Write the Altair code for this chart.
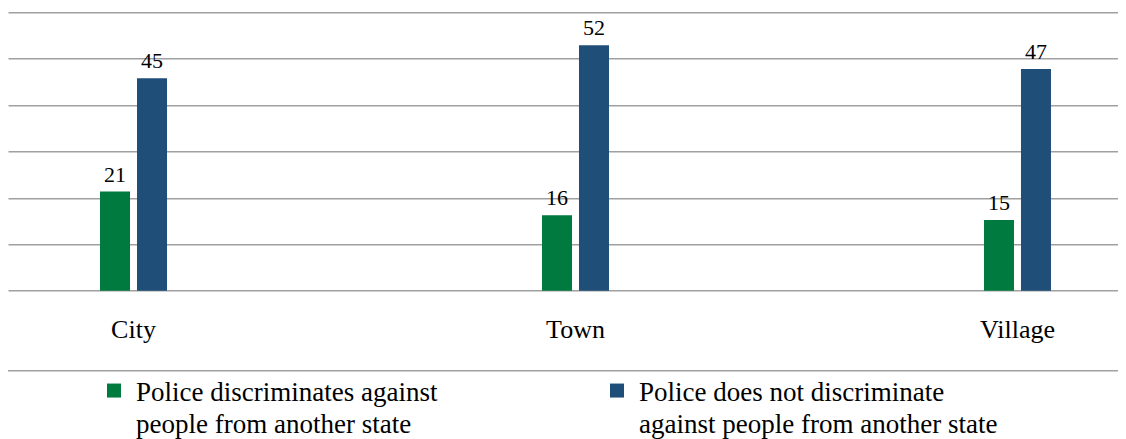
import altair as alt
import pandas as pd

# ---- data ----
categories = ["City", "Town", "Village"]
series = [
    "Police discriminates against people from another state",
    "Police does not discriminate against people from another state",
]
discriminates = [21, 16, 15]
not_discriminates = [45, 52, 47]
legend_line1 = ["Police discriminates against", "Police does not discriminate"]
legend_line2 = ["people from another state", "against people from another state"]
colors = ["#007A3E", "#1F4E79"]
y_grid = [0, 9.83, 19.67, 29.5, 39.33, 49.17, 59]

rows = []
for i, c in enumerate(categories):
    rows.append({"area": c, "series": series[0], "value": discriminates[i]})
    rows.append({"area": c, "series": series[1], "value": not_discriminates[i]})
df = pd.DataFrame(rows)

W = 1110
H = 278.4
FONT = "Liberation Serif"
GRID = "#A0A0A0"

label_expr = (
    f"datum.label == '{series[0]}' ? ['{legend_line1[0]}', '{legend_line2[0]}'] "
    f": ['{legend_line1[1]}', '{legend_line2[1]}']"
)

x_enc = alt.X(
    "area:N",
    sort=categories,
    scale=alt.Scale(paddingInner=0.8484, paddingOuter=0.1799, align=0.5786),
    axis=alt.Axis(
        title=None, domain=False, ticks=False, labelAngle=0,
        labelFont=FONT, labelFontSize=26, labelColor="#000000",
        labelBaseline="alphabetic", labelPadding=46.6,
    ),
)
xoff_enc = alt.XOffset("series:N", sort=series,
                       scale=alt.Scale(paddingInner=0.189, paddingOuter=0))
y_enc = alt.Y(
    "value:Q",
    scale=alt.Scale(domain=[0, 59], nice=False, zero=True),
    axis=alt.Axis(title=None, values=y_grid, labels=False, ticks=False,
                  domain=False, grid=True, gridColor=GRID, gridWidth=1.5),
)

base = alt.Chart(df)

bars = base.mark_bar().encode(
    x=x_enc,
    xOffset=xoff_enc,
    y=y_enc,
    color=alt.Color(
        "series:N",
        sort=series,
        scale=alt.Scale(domain=series, range=colors),
        legend=alt.Legend(
            title=None, orient="none", legendX=92.5, legendY=354,
            direction="horizontal", columns=2,
            symbolType="M-1,0.5H1V2.5H-1Z", symbolSize=196, symbolStrokeWidth=0,
            labelFont=FONT, labelFontSize=27, labelColor="#000000",
            labelLimit=700, labelOffset=8.5, columnPadding=166,
            labelBaseline="top",
            labelExpr=label_expr,
        ),
    ),
)

labels = base.mark_text(
    dy=-10, baseline="alphabetic", font=FONT, fontSize=22, color="#000000"
).encode(x=x_enc, xOffset=xoff_enc, y=y_enc, text="value:Q")

sep = alt.Chart(pd.DataFrame({"k": [0]})).mark_rule(
    color=GRID, strokeWidth=1.5
).encode(x=alt.value(0), x2=alt.value(W), y=alt.value(358.4))

chart = (
    alt.layer(bars, labels, sep)
    .properties(
        width=W, height=H, autosize="none",
        padding={"left": 0, "top": 4.3, "right": 0, "bottom": 148.3},
    )
    .configure(style={"guide-label": {"lineHeight": 32}})
    .configure_view(stroke=None)
)

chart.save("out.html", embed_options={"renderer": "svg", "actions": False})
